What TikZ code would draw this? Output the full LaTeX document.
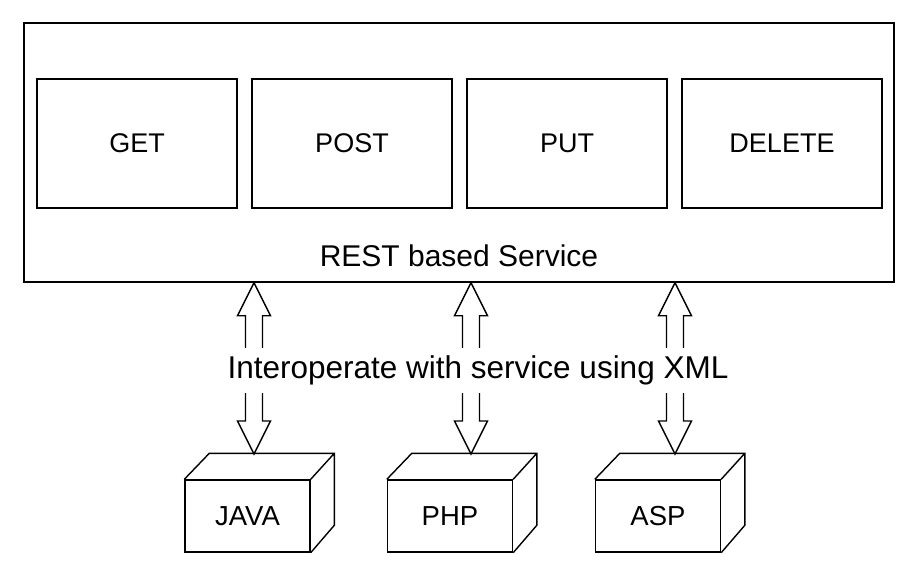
\documentclass[tikz,border=0pt]{standalone}
\usepackage{fontspec}
\setmainfont{Liberation Sans}
\usetikzlibrary{positioning,calc}

\tikzset{
  method/.style={draw, line width=1.4pt, minimum width=200pt, minimum height=129pt,
    font=\fontsize{27}{32}\selectfont},
  cube/.style={draw, line width=1.4pt, minimum width=125pt, minimum height=72pt,
    font=\fontsize{27.5}{32}\selectfont},
  fat/.style={line width=1.4pt},
}

% hollow two-headed arrow from #1 down to #2
\newcommand\fatarrow[2]{%
  \draw[fat] (#1) -- ++(-16.5,33) -- ++(8,0) -- ($(#2)+(-8.5,-33)$) -- ++(-8,0)
    -- (#2) -- ++(16.5,-33) -- ++(-8,0) -- ($(#1)+(8.5,33)$) -- ++(8,0) -- cycle;}

\begin{document}
\begin{tikzpicture}[x=1pt, y=-1pt]
  \useasboundingbox (0,0) rectangle (918,576);

  % service with its methods
  \node[draw, line width=1.4pt, minimum width=870pt, minimum height=259pt] (service) at (459,152.5) {};
  \foreach \m [count=\i] in {GET,POST,PUT,DELETE}
    \node[method] (\m) at ({137+215*(\i-1)},143.5) {\m};
  \node[above=12pt of service.south, font=\fontsize{30}{36}\selectfont] (restlabel) {REST based Service};

  % clients
  \foreach \c/\x/\t in {java/247.5/JAVA, php/450/PHP, asp/658/ASP} {
    \node[cube] (\c) at (\x,516) {\t};
    \draw[fat] (\c.north west) -- ++(25,-26) -- ++(125,0) coordinate (\c-corner)
      -- ++(0,72) -- (\c.south east) (\c.north east) -- (\c-corner);
  }

  \coordinate (javaIn) at (254,454);
  \coordinate (phpIn) at (471,454);
  \coordinate (aspIn) at (675,454);
  \foreach \c in {javaIn,phpIn,aspIn}
    \fatarrow{service.south -| \c}{\c};

  \node[fill=white, minimum height=45pt, inner xsep=2pt, font=\fontsize{31.5}{36}\selectfont]
    (interop) at (478,370) {Interoperate with service using XML};
\end{tikzpicture}
\end{document}
